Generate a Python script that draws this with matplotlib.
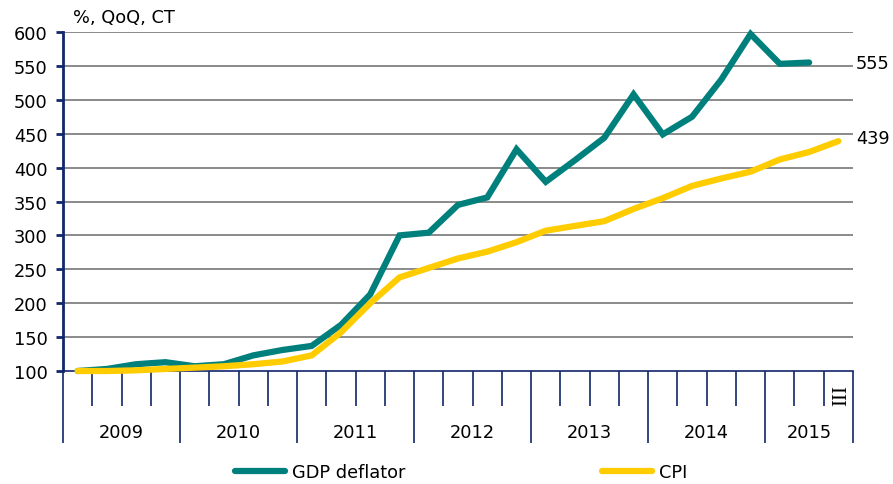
import numpy as np
import matplotlib.pyplot as plt
from matplotlib.lines import Line2D

# quarterly data, 2009 Q1 .. 2015 Q3
years = ["2009", "2010", "2011", "2012", "2013", "2014", "2015"]
quarters_per_year = [4, 4, 4, 4, 4, 4, 3]
gdp_deflator = [100, 103, 110, 113, 107, 110, 123, 131, 137, 168, 213, 300,
                304, 345, 356, 427, 379, 411, 444, 508, 449, 475, 530, 597,
                553, 555]
cpi = [100, 100, 101, 103, 105, 107, 110, 114, 123, 157, 200, 238,
       252, 266, 276, 290, 307, 314, 321, 339, 355, 373, 384, 394,
       412, 423, 439]
last_gdp_label = "555"
last_cpi_label = "439"

teal = "#00807c"
yellow = "#ffcc00"
navy = "#12266b"
grid_c = "#8a8a8a"
fs = 12.8

plt.rcParams['font.family'] = ['DejaVu Sans']

fig = plt.figure(figsize=(8.93, 4.85), dpi=100)
ax = fig.add_axes([63 / 893, 1 - 372 / 485, 790 / 893, 339 / 485])

n_q = sum(quarters_per_year)
x_gdp = np.arange(len(gdp_deflator)) + 0.5
x_cpi = np.arange(len(cpi)) + 0.5

ax.plot(x_gdp, gdp_deflator, color=teal, lw=4.5, solid_capstyle='round',
        solid_joinstyle='miter', zorder=3, clip_on=False)
ax.plot(x_cpi, cpi, color=yellow, lw=4.5, solid_capstyle='round',
        solid_joinstyle='miter', zorder=4, clip_on=False)

ax.set_xlim(0, n_q)
ax.set_ylim(100, 600)
ax.set_yticks(np.arange(100, 601, 50))
ax.tick_params(axis='y', labelsize=fs, length=5, width=2, color=navy,
               pad=6, labelcolor='black')
for v in np.arange(150, 601, 50):
    ax.axhline(v, color=grid_c, lw=1.4, zorder=1)

for s in ['top', 'right']:
    ax.spines[s].set_visible(False)
ax.spines['left'].set_color(navy)
ax.spines['left'].set_linewidth(2)
ax.spines['bottom'].set_color(navy)
ax.spines['bottom'].set_linewidth(1.2)

# year boundaries (long ticks) and quarter boundaries (short ticks)
bounds = np.concatenate([[0], np.cumsum(quarters_per_year)])
ax.set_xticks(bounds)
ax.set_xticklabels([])
ax.set_xticks(np.arange(n_q + 1), minor=True)
ax.tick_params(axis='x', which='major', length=52, width=1.2, color=navy)
ax.tick_params(axis='x', which='minor', length=25, width=1.2, color=navy)

for i, yr in enumerate(years):
    c = (bounds[i] + bounds[i + 1]) / 2
    ax.annotate(yr, xy=(c, 0), xycoords=('data', 'axes fraction'),
                xytext=(0, -44), textcoords='offset points',
                ha='center', va='center', fontsize=fs)

ax.annotate("III", xy=(n_q - 0.4, 0), xycoords=('data', 'axes fraction'),
            xytext=(0, -17), textcoords='offset points', rotation=90,
            ha='center', va='center', fontsize=15, family='Liberation Serif')

ax.annotate(last_gdp_label, xy=(n_q, gdp_deflator[-1]), xytext=(2, 0),
            textcoords='offset points', ha='left', va='center', fontsize=fs,
            annotation_clip=False)
ax.annotate(last_cpi_label, xy=(n_q, cpi[-1]), xytext=(2.5, 2),
            textcoords='offset points', ha='left', va='center', fontsize=fs,
            annotation_clip=False)

fig.text(73 / 893, 1 - 18 / 485, "%, QoQ, CT", fontsize=fs, va='center', ha='left')

h1 = Line2D([], [], color=teal, lw=4.5, solid_capstyle='round')
h2 = Line2D([], [], color=yellow, lw=4.5, solid_capstyle='round')
leg1 = fig.legend([h1], ["GDP deflator"], loc='center left',
                  bbox_to_anchor=(235 / 893, 1 - 473 / 485), frameon=False,
                  fontsize=fs, handlelength=2.8, handletextpad=0.4,
                  borderpad=0, borderaxespad=0)
leg2 = fig.legend([h2], ["CPI"], loc='center left',
                  bbox_to_anchor=(602 / 893, 1 - 473 / 485), frameon=False,
                  fontsize=fs, handlelength=2.8, handletextpad=0.4,
                  borderpad=0, borderaxespad=0)

fig.savefig("out.png", dpi=100)
